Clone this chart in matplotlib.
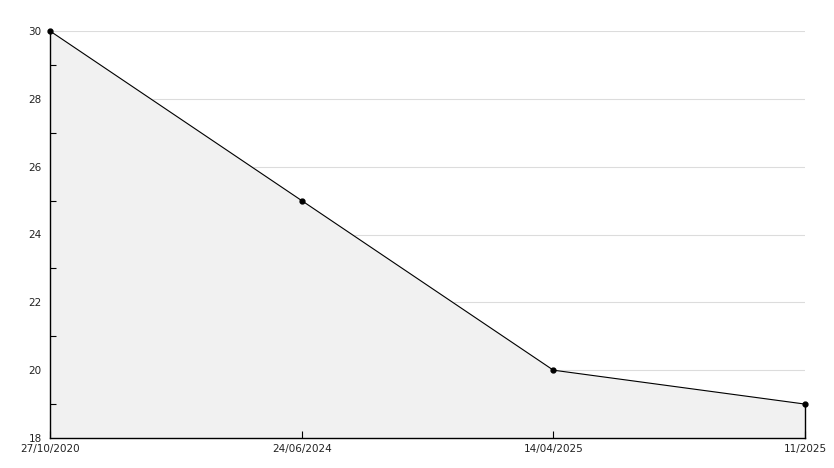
import matplotlib
matplotlib.use("Agg")
import matplotlib.pyplot as plt
import numpy as np

dates = ["27/10/2020", "24/06/2024", "14/04/2025", "11/2025"]
values = [30, 25, 20, 19]
y_major = [18, 20, 22, 24, 26, 28, 30]
y_minor = [19, 21, 23, 25, 27, 29]

W, H = 834, 468
fig = plt.figure(figsize=(W / 100, H / 100), dpi=100)
ax = fig.add_axes([50 / W, (H - 438) / H, (805 - 50) / W, (438 - 31) / H])
x = np.arange(len(values))
ax.set_xlim(0, len(values) - 1)
ax.set_ylim(18, 30)

for v in y_major[1:]:
    ax.axhline(v, color="#dcdcdc", lw=0.8, zorder=0)

ax.fill_between(x, values, 18, color="#f1f1f1", zorder=1)
ax.plot(x, values, color="black", lw=0.8, zorder=3)
ax.plot(x, values, "o", color="black", ms=3.5, zorder=4, clip_on=False)
ax.plot([x[-1], x[-1]], [18, values[-1]], color="black", lw=1.0, zorder=3, clip_on=False)

for s in ["top", "right"]:
    ax.spines[s].set_visible(False)
for s in ["left", "bottom"]:
    ax.spines[s].set_color("black")
    ax.spines[s].set_linewidth(1.0)

ax.set_xticks(x)
ax.set_xticklabels(dates)
ax.set_yticks(y_major)
ax.set_yticks(y_minor, minor=True)
ax.tick_params(axis="x", direction="in", length=5, width=0.8, labelsize=7.5, pad=4)
ax.tick_params(axis="y", which="major", length=0, labelsize=7.5, pad=6)
ax.tick_params(axis="y", which="minor", direction="in", length=4, width=0.8)
for lbl in ax.get_xticklabels():
    lbl.set_color("#222222")
for lbl in ax.get_yticklabels():
    lbl.set_color("#222222")

fig.savefig("out.png", dpi=100)
